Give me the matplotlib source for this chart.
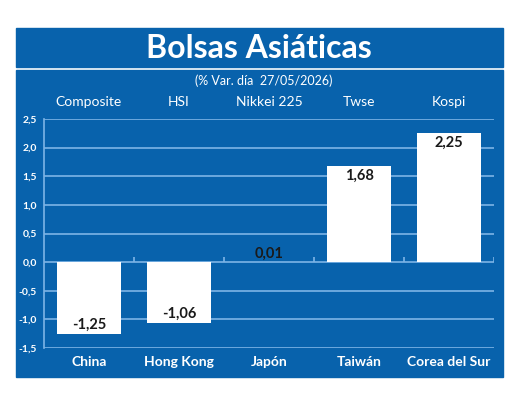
import numpy as np
import matplotlib.pyplot as plt
from matplotlib.patches import Rectangle

# data
paises = ["China", "Hong Kong", "Japón", "Taiwán", "Corea del Sur"]
indices = ["Composite", "HSI", "Nikkei 225", "Twse", "Kospi"]
variaciones = [-1.25, -1.06, 0.01, 1.68, 2.25]
y_ticks = [-1.5, -1.0, -0.5, 0.0, 0.5, 1.0, 1.5, 2.0, 2.5]

AZUL = "#0862ac"
GRID = "#7db4e6"
W, H = 520, 401

plt.rcParams['font.family'] = ['Lato', 'DejaVu Sans']

fig = plt.figure(figsize=(W / 100, H / 100), dpi=100)
fig.patch.set_facecolor("white")


def fx(px):
    return px / W


def fy(py):
    return 1 - py / H


# background panels (title band + chart panel)
fig.patches.append(Rectangle((fx(15.5), fy(67)), fx(503) - fx(15.5), fy(28) - fy(67),
                             transform=fig.transFigure, color=AZUL, zorder=-1))
fig.patches.append(Rectangle((fx(15.5), fy(377)), fx(503) - fx(15.5), fy(70) - fy(377),
                             transform=fig.transFigure, color=AZUL, zorder=-1))

fig.text(fx(259), fy(49), "Bolsas Asiáticas", color="white", fontsize=23,
         fontweight="bold", ha="center", va="center")
fig.text(fx(264), fy(81), "(% Var. día  27/05/2026)", color="white", fontsize=9,
         ha="center", va="center")

ax = fig.add_axes([fx(44), fy(348), fx(494) - fx(44), fy(119) - fy(348)])
ax.set_zorder(2)
ax.set_facecolor("none")

x = np.arange(len(paises))
ax.set_xlim(-0.5, len(paises) - 0.5)
ax.set_ylim(y_ticks[0], y_ticks[-1])

for yv in y_ticks:
    ax.axhline(yv, color=GRID, lw=1.2, zorder=1)
# small ticks on the zero line between categories
ax.vlines(x + 0.5, 0, 0.09, color=GRID, lw=1.2, zorder=1)

ax.bar(x, variaciones, width=0.72, color="white", zorder=2)

for xi, v in zip(x, variaciones):
    txt = f"{v:.2f}".replace(".", ",")
    if v < 0:
        ax.text(xi, v + 0.03, txt, ha="center", va="bottom", fontsize=10.5,
                fontweight="bold", color="#1a1a1a", zorder=3)
    elif v < 0.3:
        ax.text(xi, v + 0.02, txt, ha="center", va="bottom", fontsize=10.5,
                fontweight="bold", color="#1a1a1a", zorder=3)
    else:
        ax.text(xi, v - 0.05, txt, ha="center", va="top", fontsize=10.5,
                fontweight="bold", color="#1a1a1a", zorder=3)

for s in ["top", "right", "bottom"]:
    ax.spines[s].set_visible(False)
ax.spines["left"].set_color(GRID)
ax.spines["left"].set_linewidth(1.2)

ax.set_yticks(y_ticks)
ax.set_yticklabels([f"{t:.1f}".replace(".", ",") for t in y_ticks],
                   color="white", fontsize=7.5, fontweight="bold")
ax.tick_params(axis="y", length=0, pad=5)

ax.set_xticks(x)
ax.set_xticklabels(paises, color="white", fontsize=10, fontweight="bold")
ax.tick_params(axis="x", length=0, pad=6)

# index names above the plot
for xi, nombre in zip(x, indices):
    ax.annotate(nombre, (xi, 1), xycoords=("data", "axes fraction"),
                xytext=(0, 12), textcoords="offset points",
                ha="center", va="center", color="white", fontsize=10)

fig.savefig("out.png", dpi=100)
